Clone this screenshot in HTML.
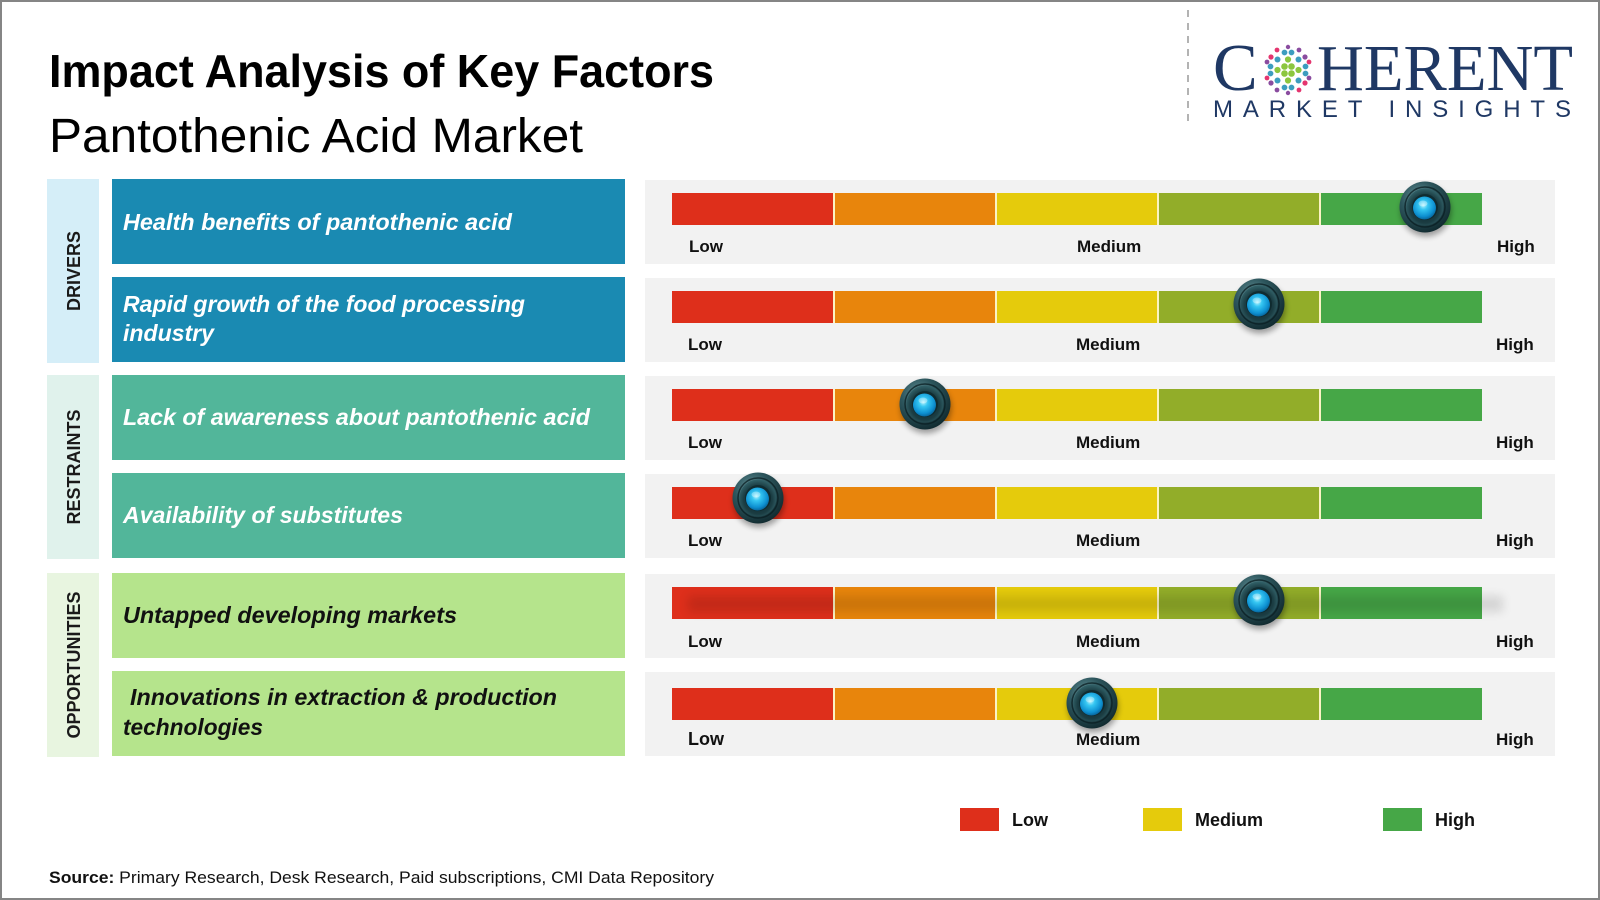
<!DOCTYPE html>
<html>
<head>
<meta charset="utf-8">
<style>
  html,body{margin:0;padding:0;background:#fff;}
  body{width:1600px;height:900px;overflow:hidden;}
  svg{display:block;}
  text{font-family:"Liberation Sans",sans-serif;}
</style>
</head>
<body>
<svg width="1600" height="900" viewBox="0 0 1600 900" xmlns="http://www.w3.org/2000/svg">
  <defs>
    <radialGradient id="kOuter" cx="0.38" cy="0.32" r="0.75">
      <stop offset="0" stop-color="#6a989e"/>
      <stop offset="0.45" stop-color="#2d565d"/>
      <stop offset="1" stop-color="#0e262b"/>
    </radialGradient>
    <radialGradient id="kInner" cx="0.5" cy="0.55" r="0.55">
      <stop offset="0" stop-color="#0c2226"/>
      <stop offset="0.7" stop-color="#1b3d43"/>
      <stop offset="1" stop-color="#33636a"/>
    </radialGradient>
    <radialGradient id="kBlue" cx="0.45" cy="0.38" r="0.65">
      <stop offset="0" stop-color="#b4f4ff"/>
      <stop offset="0.3" stop-color="#35c6f2"/>
      <stop offset="0.75" stop-color="#0d8fd0"/>
      <stop offset="1" stop-color="#075e92"/>
    </radialGradient>
    <filter id="blur3" x="-50%" y="-50%" width="200%" height="200%"><feGaussianBlur stdDeviation="3"/></filter>
    <filter id="blur6" x="-20%" y="-100%" width="140%" height="300%"><feGaussianBlur stdDeviation="5"/></filter>
    <g id="knob">
      <circle cx="1" cy="4" r="25.5" fill="#000" opacity="0.35" filter="url(#blur3)"/>
      <circle r="25.5" fill="url(#kOuter)"/>
      <circle r="20" fill="none" stroke="#0a1d21" stroke-width="1.5" opacity="0.75"/>
      <circle r="18.5" fill="url(#kInner)"/>
      <circle r="13" fill="#0a1f23" opacity="0.55"/>
      <circle cx="-0.5" cy="1" r="11.5" fill="url(#kBlue)"/>
      <ellipse cx="-2" cy="-3.5" rx="4.5" ry="3" fill="#ffffff" opacity="0.35"/>
    </g>
    <g id="bar">
      <rect x="0" y="0" width="162" height="32" fill="#de2f1b"/>
      <rect x="162" y="0" width="162" height="32" fill="#e8850c"/>
      <rect x="324" y="0" width="162" height="32" fill="#e5cb0c"/>
      <rect x="486" y="0" width="162" height="32" fill="#92ad29"/>
      <rect x="648" y="0" width="162" height="32" fill="#46a747"/>
      <rect x="161" y="0" width="2" height="32" fill="#fbf3c4"/>
      <rect x="323" y="0" width="2" height="32" fill="#fbf3c4"/>
      <rect x="485" y="0" width="2" height="32" fill="#fbf3c4"/>
      <rect x="647" y="0" width="2" height="32" fill="#fbf3c4"/>
    </g>
  </defs>

  <!-- outer border -->
  <rect x="1" y="1" width="1598" height="898" fill="#ffffff" stroke="#858585" stroke-width="2"/>

  <!-- Titles -->
  <text x="49" y="87" font-size="46" font-weight="bold" fill="#000" textLength="665" lengthAdjust="spacingAndGlyphs">Impact Analysis of Key Factors</text>
  <text x="49" y="152" font-size="48" fill="#000" textLength="534" lengthAdjust="spacingAndGlyphs">Pantothenic Acid Market</text>

  <!-- Logo -->
  <line x1="1188" y1="10" x2="1188" y2="126" stroke="#b3b3b3" stroke-width="2" stroke-dasharray="7 6"/>
  <text x="1213" y="90" font-size="67" fill="#1f3864" style="font-family:'Liberation Serif',serif">C</text>
  <text x="1317" y="90" font-size="66" fill="#1f3864" textLength="256" lengthAdjust="spacingAndGlyphs" style="font-family:'Liberation Serif',serif">HERENT</text>
  <g>
    <g fill="#8cc63f">
      <circle cx="1284.5" cy="66.5" r="3.3"/><circle cx="1291.5" cy="66.5" r="3.3"/>
      <circle cx="1284.5" cy="73.5" r="3.3"/><circle cx="1291.5" cy="73.5" r="3.3"/>
      <circle cx="1277.5" cy="70" r="3.1"/><circle cx="1298.5" cy="70" r="3.1"/>
      <circle cx="1288" cy="59.5" r="3.1"/><circle cx="1288" cy="80.5" r="3.1"/>
    </g>
    <g fill="#3d9dbf">
      <circle cx="1277.5" cy="59.5" r="3"/><circle cx="1298.5" cy="59.5" r="3"/>
      <circle cx="1277.5" cy="80.5" r="3"/><circle cx="1298.5" cy="80.5" r="3"/>
      <circle cx="1270.5" cy="66.5" r="2.9"/><circle cx="1270.5" cy="73.5" r="2.9"/>
      <circle cx="1305.5" cy="66.5" r="2.9"/><circle cx="1305.5" cy="73.5" r="2.9"/>
      <circle cx="1284.5" cy="52.5" r="2.9"/><circle cx="1291.5" cy="52.5" r="2.9"/>
      <circle cx="1284.5" cy="87.5" r="2.9"/><circle cx="1291.5" cy="87.5" r="2.9"/>
    </g>
    <g fill="#e4356f">
      <circle cx="1271" cy="57" r="2.6"/><circle cx="1305" cy="83" r="2.6"/>
      <circle cx="1277" cy="50" r="2.4"/><circle cx="1299" cy="90" r="2.4"/>
      <circle cx="1267" cy="78" r="2.4"/><circle cx="1309" cy="62" r="2.4"/>
    </g>
    <g fill="#8a4c9f">
      <circle cx="1305" cy="57" r="2.6"/><circle cx="1271" cy="83" r="2.6"/>
      <circle cx="1299" cy="50" r="2.4"/><circle cx="1277" cy="90" r="2.4"/>
      <circle cx="1267" cy="62" r="2.4"/><circle cx="1309" cy="78" r="2.4"/>
      <circle cx="1288" cy="47" r="2.2"/><circle cx="1288" cy="93" r="2.2"/>
    </g>
  </g>
  <text x="1213" y="117" font-size="24" fill="#1f3864" textLength="358" lengthAdjust="spacing">MARKET INSIGHTS</text>

  <!-- Category side panels -->
  <rect x="47" y="179" width="52" height="184" fill="#d5eef8"/>
  <rect x="47" y="375" width="52" height="184" fill="#e0f2ec"/>
  <rect x="47" y="573" width="52" height="184" fill="#e8f5e0"/>
  <text transform="translate(80,271) rotate(-90)" text-anchor="middle" font-size="18" font-weight="bold" fill="#1a1a1a">DRIVERS</text>
  <text transform="translate(80,467) rotate(-90)" text-anchor="middle" font-size="18" font-weight="bold" fill="#1a1a1a">RESTRAINTS</text>
  <text transform="translate(80,665) rotate(-90)" text-anchor="middle" font-size="18" font-weight="bold" fill="#1a1a1a">OPPORTUNITIES</text>

  <!-- Factor boxes -->
  <rect x="112" y="179" width="513" height="85" fill="#1a8ab2"/>
  <rect x="112" y="277" width="513" height="85" fill="#1a8ab2"/>
  <rect x="112" y="375" width="513" height="85" fill="#52b69a"/>
  <rect x="112" y="473" width="513" height="85" fill="#52b69a"/>
  <rect x="112" y="573" width="513" height="85" fill="#b5e48c"/>
  <rect x="112" y="671" width="513" height="85" fill="#b5e48c"/>

  <g font-size="23" font-weight="bold" font-style="italic">
    <text x="123" y="230" fill="#ffffff" textLength="389" lengthAdjust="spacingAndGlyphs">Health benefits of pantothenic acid</text>
    <text x="123" y="312" fill="#ffffff" textLength="402" lengthAdjust="spacingAndGlyphs">Rapid growth of the food processing</text>
    <text x="123" y="341" fill="#ffffff" textLength="91" lengthAdjust="spacingAndGlyphs">industry</text>
    <text x="123" y="425" fill="#ffffff" textLength="467" lengthAdjust="spacingAndGlyphs">Lack of awareness about pantothenic acid</text>
    <text x="123" y="523" fill="#ffffff" textLength="280" lengthAdjust="spacingAndGlyphs">Availability of substitutes</text>
    <text x="123" y="623" fill="#111111" textLength="334" lengthAdjust="spacingAndGlyphs">Untapped developing markets</text>
    <text x="130" y="705" fill="#111111" textLength="427" lengthAdjust="spacingAndGlyphs">Innovations in extraction &amp; production</text>
    <text x="123" y="735" fill="#111111" textLength="140" lengthAdjust="spacingAndGlyphs">technologies</text>
  </g>

  <!-- Right gray panels -->
  <g fill="#f2f2f2">
    <rect x="645" y="180" width="910" height="84"/>
    <rect x="645" y="278" width="910" height="84"/>
    <rect x="645" y="376" width="910" height="84"/>
    <rect x="645" y="474" width="910" height="84"/>
    <rect x="645" y="574" width="910" height="84"/>
    <rect x="645" y="672" width="910" height="84"/>
  </g>

  <!-- Bars -->
  <use href="#bar" x="672" y="193"/>
  <use href="#bar" x="672" y="291"/>
  <use href="#bar" x="672" y="389"/>
  <use href="#bar" x="672" y="487"/>
  <use href="#bar" x="672" y="587"/>
  <rect x="688" y="596" width="815" height="16" fill="#000" opacity="0.12" filter="url(#blur6)"/>
  <use href="#bar" x="672" y="688"/>

  <!-- Labels -->
  <g font-size="17" font-weight="bold" fill="#111">
    <text x="689" y="252">Low</text><text x="1077" y="252">Medium</text><text x="1497" y="252">High</text>
    <text x="688" y="350">Low</text><text x="1076" y="350">Medium</text><text x="1496" y="350">High</text>
    <text x="688" y="448">Low</text><text x="1076" y="448">Medium</text><text x="1496" y="448">High</text>
    <text x="688" y="546">Low</text><text x="1076" y="546">Medium</text><text x="1496" y="546">High</text>
    <text x="688" y="647">Low</text><text x="1076" y="647">Medium</text><text x="1496" y="647">High</text>
    <text x="688" y="745" font-size="18">Low</text><text x="1076" y="745">Medium</text><text x="1496" y="745">High</text>
  </g>

  <!-- Knobs -->
  <use href="#knob" x="1425" y="207"/>
  <use href="#knob" x="1259" y="304"/>
  <use href="#knob" x="925" y="404"/>
  <use href="#knob" x="758" y="498"/>
  <use href="#knob" x="1259" y="600"/>
  <use href="#knob" x="1092" y="703"/>

  <!-- Legend -->
  <rect x="960" y="808" width="39" height="23" fill="#de2f1b"/>
  <rect x="1143" y="808" width="39" height="23" fill="#e5cb0c"/>
  <rect x="1383" y="808" width="39" height="23" fill="#46a747"/>
  <g font-size="18" font-weight="bold" fill="#111">
    <text x="1012" y="826">Low</text>
    <text x="1195" y="826">Medium</text>
    <text x="1435" y="826">High</text>
  </g>

  <!-- Source -->
  <text x="49" y="883" font-size="17" fill="#111" textLength="665" lengthAdjust="spacingAndGlyphs"><tspan font-weight="bold">Source:</tspan> Primary Research, Desk Research, Paid subscriptions, CMI Data Repository</text>
</svg>
</body>
</html>
